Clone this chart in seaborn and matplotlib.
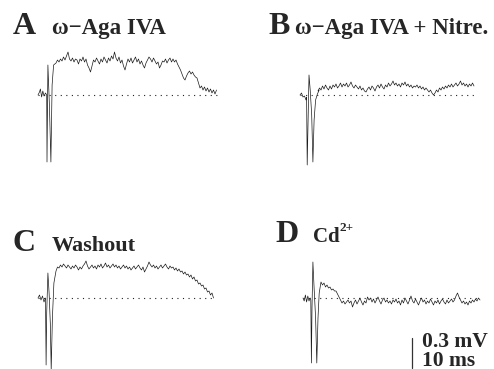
import numpy as np
import pandas as pd
import seaborn as sns
import matplotlib.pyplot as plt

# field potential traces
# voltage in units of 0.01 mV, time in ms
# fast part (stimulus artefact) has its own times, the rest is sampled every 0.5 ms
dt = 0.5

a_art_t = [0.0, 0.5, 0.8, 1.2, 1.6, 2.0, 2.5, 2.9, 3.0, 3.3, 3.8, 4.3, 4.7, 5.2]
a_art_v = [0, 3, 6, -2, 4, -1, 2, 0, -67, 30, -10, -67, 10, 30]
a_rest = [32, 35, 33, 36, 34, 38, 35, 39, 43, 36, 34, 37, 33, 36, 35, 31, 36, 34, 38, 33,
          36, 30, 27, 23, 29, 35, 33, 37, 34, 31, 36, 33, 38, 35, 32, 37, 34, 39, 36, 43,
          37, 34, 38, 32, 35, 29, 25, 31, 36, 33, 37, 32, 35, 38, 33, 36, 31, 34, 30, 27,
          32, 35, 38, 36, 33, 37, 34, 31, 33, 27, 30, 34, 33, 36, 32, 35, 37, 33, 36, 33,
          35, 31, 28, 25, 21, 17, 15, 19, 22, 24, 21, 23, 20, 18, 17, 12, 7, 9, 5, 8,
          4, 7, 3, 6, 2, 5, 1, 5]

b_art_t = [0.0, 0.5, 1.0, 1.5, 2.0, 2.2, 2.4, 2.8, 3.0, 3.4, 3.9, 4.3, 4.7, 5.2, 5.8, 6.4]
b_art_v = [0, 2, -2, -1, -5, -2, -70, -10, 20, 5, -20, -67, -25, -5, 1, 5]
b_rest = [4, 7, 5, 9, 6, 10, 7, 5, 9, 6, 10, 8, 11, 7, 9, 12, 8, 11, 9, 12,
          8, 10, 13, 9, 7, 10, 8, 6, 9, 5, 7, 4, 3, 6, 8, 5, 9, 7, 4, 8,
          10, 7, 11, 8, 6, 10, 8, 12, 9, 11, 14, 10, 12, 9, 11, 8, 12, 10, 13, 9,
          11, 8, 10, 7, 9, 8, 10, 7, 9, 6, 8, 5, 7, 5, 3, 5, 2, 0, 2, 5,
          3, 7, 5, 8, 6, 9, 7, 10, 8, 11, 8, 10, 12, 9, 11, 14, 10, 12, 9, 11,
          8, 11, 9, 12, 9]

c_art_t = [0.0, 0.5, 1.0, 1.5, 2.0, 2.5, 2.7, 2.9, 3.3, 3.7, 4.1, 4.4, 4.8, 5.3]
c_art_v = [0, 3, -2, 2, -4, 0, -67, -15, 25, 5, -25, -72, -20, 15]
c_rest = [27, 31, 30, 33, 31, 34, 32, 30, 33, 31, 29, 32, 30, 33, 31, 28, 31, 29, 32, 34,
          37, 32, 29, 31, 33, 30, 32, 29, 33, 31, 34, 30, 32, 35, 31, 33, 30, 32, 34, 31,
          33, 30, 32, 29, 31, 33, 30, 32, 29, 31, 28, 30, 32, 29, 31, 33, 30, 28, 31, 26,
          29, 32, 36, 33, 31, 33, 30, 32, 29, 31, 33, 30, 32, 34, 31, 29, 32, 30, 31, 28,
          30, 27, 29, 26, 27, 24, 26, 23, 24, 21, 23, 19, 21, 17, 18, 14, 15, 12, 13, 9,
          10, 6, 7, 3, 5, 0]

d_art_t = [0.0, 0.4, 0.8, 1.2, 1.6, 2.0, 2.4, 2.6, 2.8, 3.0, 3.3, 3.7, 4.2, 4.6, 5.0, 5.4]
d_art_v = [0, -3, 3, -4, 2, -3, 0, -2, -65, -10, 36, 10, -20, -65, -20, 5]
d_rest = [16, 13, 15, 11, 13, 10, 11, 8, 9, 7, 7, 4, 1, -2, -5, -3, -6, -4, -2, -5,
          -3, -9, -5, -2, -6, -3, 0, -4, -7, -3, -5, 1, -2, 0, -4, -1, -5, -2, 1, -3,
          -6, -2, 0, -4, -2, -5, -3, -6, -2, -4, -1, -5, -3, -7, -2, -5, 0, -3, -6, -2,
          2, -3, -5, -1, -4, -7, -3, 0, -4, -2, -6, -3, -5, -1, -4, -7, -3, -5, -2, -6,
          -3, -1, -4, -6, -2, -5, -3, -1, -4, -2, 2, 5, 1, -2, -5, -3, -6, -4, -7, -3,
          -5, -2, -4, -1, -3, 0, -2]

letters = ['A', 'B', 'C', 'D']
titles = ['ω−Aga IVA', 'ω−Aga IVA + Nitre.', 'Washout', 'Cd']
scale_mv = 0.3
scale_ms = 10


def build(art_t, art_v, rest):
    t = list(art_t) + list(6.0 + dt * np.arange(len(rest)))
    v = np.array(list(art_v) + list(rest)) / 100
    return pd.DataFrame({'ms': t, 'mV': v})


traces = [build(a_art_t, a_art_v, a_rest), build(b_art_t, b_art_v, b_rest),
          build(c_art_t, c_art_v, c_rest), build(d_art_t, d_art_v, d_rest)]

sns.set_style('white')
plt.rcParams['font.family'] = ['Liberation Serif', 'DejaVu Serif']

W, H = 494, 369
fig = plt.figure(figsize=(W / 100, H / 100), dpi=100)

# pixel position of (0 ms, 0 mV) for each panel; 3 px per ms, 100 px per mV
origins = [(38, 95), (300, 95), (38, 298), (303, 298)]
label_pos = [(13, 34), (268, 34), (12, 251), (275, 242)]
title_pos = [(52, 34), (295, 34), (52, 251), (313, 242)]
title_size = [16.5, 16.5, 16, 15]

axes = []
for df, (ox, oy) in zip(traces, origins):
    left, top, w, h = ox - 10, oy - 50, 200, 130
    ax = fig.add_axes([left / W, 1 - (top + h) / H, w / W, h / H])
    sns.lineplot(data=df, x='ms', y='mV', ax=ax, color='#1a1a1a', linewidth=0.5,
                 estimator=None, sort=False)
    ax.hlines(0, df['ms'].iloc[0], df['ms'].iloc[-1], colors='#222222',
              linestyles=(0, (1, 4)), linewidth=0.8)
    ax.set_xlim(-10 / 3, 190 / 3)
    ax.set_ylim(-0.80, 0.50)
    ax.axis('off')
    axes.append(ax)

for let, (lx, ly), tit, (tx, ty), ts in zip(letters, label_pos, titles, title_pos, title_size):
    fig.text(lx / W, 1 - ly / H, let, fontsize=23, fontweight='bold', va='baseline')
    fig.text(tx / W, 1 - ty / H, tit, fontsize=ts, fontweight='bold', va='baseline')
# superscript of Cd
fig.text(340 / W, 1 - 231 / H, '2+', fontsize=9.5, fontweight='bold', va='baseline')

# scale bar in panel D
ax = axes[3]
bx = 36.3
ax.plot([bx, bx], [-0.40, -0.40 - scale_mv], color='#333333', linewidth=0.9, clip_on=False)
ax.text(bx + 3.3, -0.49, f'{scale_mv} mV', fontsize=15.5, fontweight='bold', va='baseline')
ax.text(bx + 3.3, -0.675, f'{scale_ms} ms', fontsize=15.5, fontweight='bold', va='baseline')

fig.savefig('out.png', dpi=100)
